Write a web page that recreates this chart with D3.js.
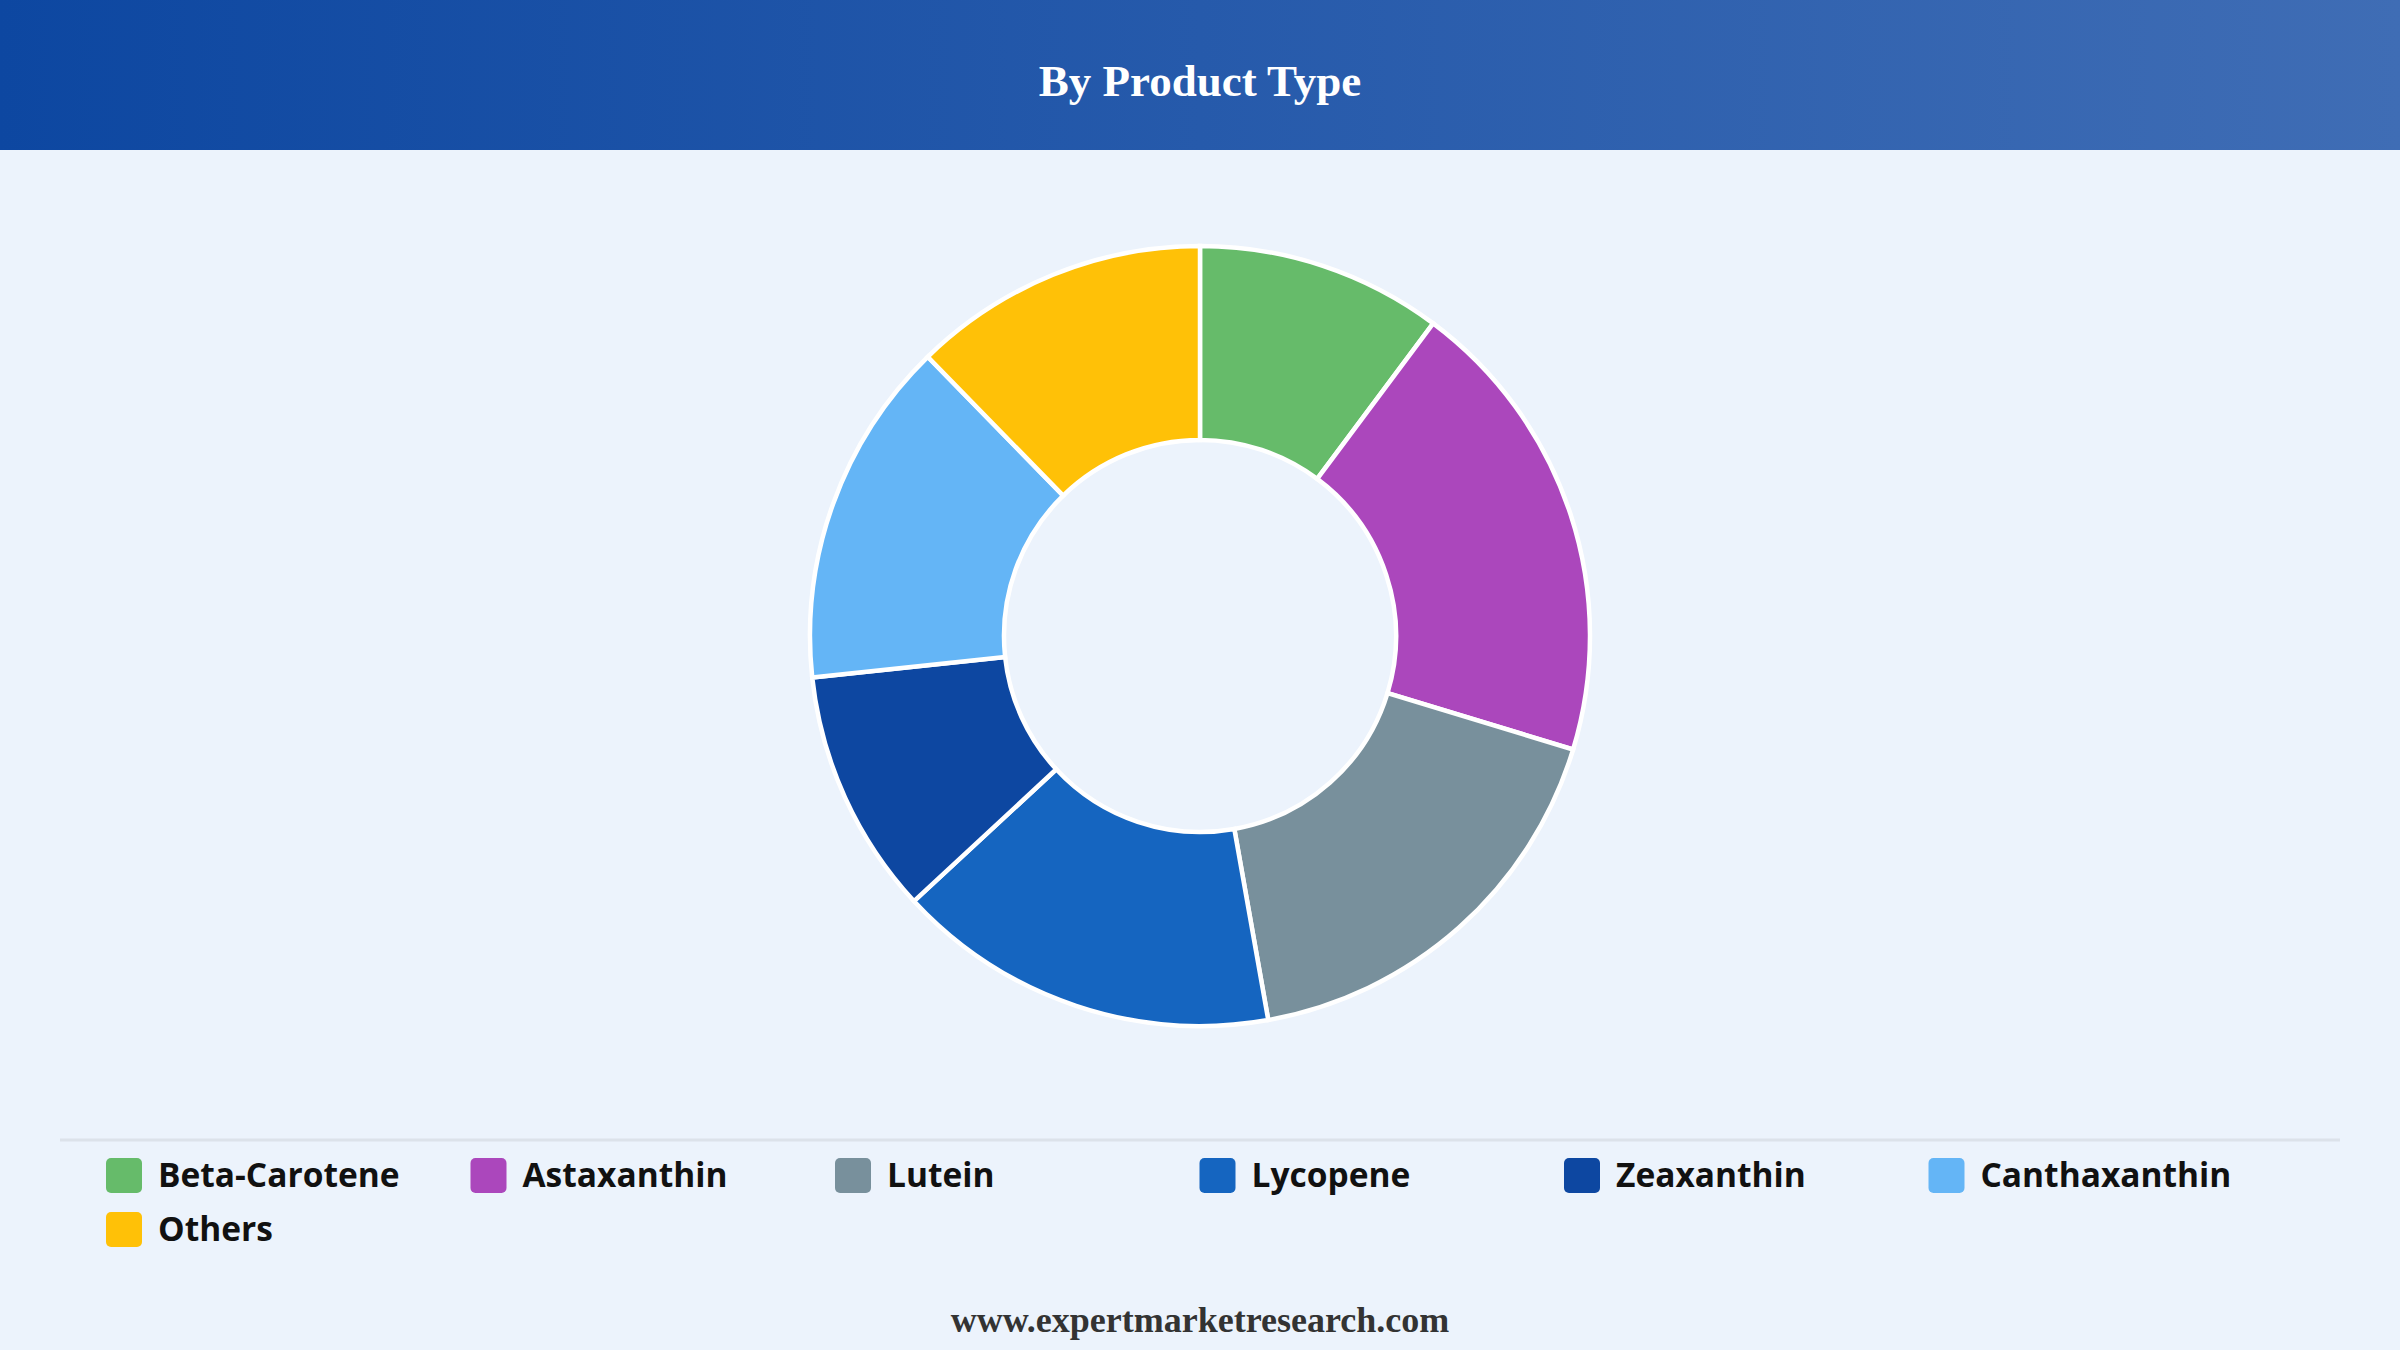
<!DOCTYPE html>
<html>
<head>
<meta charset="utf-8">
<script src="https://cdn.jsdelivr.net/npm/d3@7"></script>
<style>
  html, body { margin: 0; padding: 0; background: #ecf3fc; }
  svg { display: block; }
</style>
</head>
<body>
<div id="container"></div>
<script>
// chart values
const categories = ["Beta-Carotene", "Astaxanthin", "Lutein", "Lycopene", "Zeaxanthin", "Canthaxanthin", "Others"]
const shares     = [10.2, 19.5, 17.5, 15.9, 10.2, 14.4, 12.3]
const colours    = ["#66bb6a", "#ab47bc", "#78909c", "#1565c0", "#0d47a1", "#64b5f6", "#ffc107"]

const width = 2400
const height = 1350
const headerHeight = 150

const svg = d3.select("#container").append("svg")
  .attr("width", width)
  .attr("height", height)

// header band with its left-to-right gradient
const grad = svg.append("defs").append("linearGradient")
  .attr("id", "headerGrad")
  .attr("x1", "0%").attr("x2", "100%").attr("y1", "0%").attr("y2", "0%")
grad.append("stop").attr("offset", "0%").attr("stop-color", "#0d47a1")
grad.append("stop").attr("offset", "100%").attr("stop-color", "#3f6db5")

svg.append("rect")
  .attr("width", width)
  .attr("height", height)
  .attr("fill", "#ecf3fc")

svg.append("rect")
  .attr("width", width)
  .attr("height", headerHeight)
  .attr("fill", "url(#headerGrad)")

svg.append("text")
  .attr("x", width / 2)
  .attr("y", 96)
  .attr("text-anchor", "middle")
  .style("font-family", "'Liberation Serif', 'Times New Roman', serif")
  .style("font-weight", "bold")
  .style("font-size", "45px")
  .style("fill", "#ffffff")
  .text("By Product Type")

// donut
const cx = 1200, cy = 636
const outerR = 390, innerR = 196

const pie = d3.pie().sort(null).value(d => d.value)
const arc = d3.arc().innerRadius(innerR).outerRadius(outerR)

const slices = categories.map((c, i) => ({ name: c, value: shares[i], colour: colours[i] }))

svg.append("g")
    .attr("transform", `translate(${cx},${cy})`)
  .selectAll("path")
  .data(pie(slices))
  .enter()
  .append("path")
    .attr("d", arc)
    .style("fill", d => d.data.colour)
    .style("stroke", "#ffffff")
    .style("stroke-width", 4.5)

// separator above legend
svg.append("line")
  .attr("x1", 60).attr("x2", 2340)
  .attr("y1", 1140).attr("y2", 1140)
  .style("stroke", "#dce2ea")
  .style("stroke-width", 3)

// legend, six columns per row
const perRow = 6
const colX = d3.scaleLinear().domain([0, 1]).range([106, 106 + 364.5])
const rowY = d3.scaleLinear().domain([0, 1]).range([1158, 1212])

const item = svg.append("g")
  .selectAll("g")
  .data(slices)
  .enter()
  .append("g")
    .attr("transform", (d, i) => `translate(${colX(i % perRow)},${rowY(Math.floor(i / perRow))})`)

item.append("rect")
  .attr("width", 36)
  .attr("height", 35)
  .attr("rx", 5)
  .style("fill", d => d.colour)

item.append("text")
  .attr("x", 52)
  .attr("y", 29)
  .style("font-family", "'Open Sans', 'Noto Sans', sans-serif")
  .style("font-weight", "bold")
  .style("font-size", "33.5px")
  .style("fill", "#111111")
  .text(d => d.name)

// footer
svg.append("text")
  .attr("x", width / 2)
  .attr("y", 1332)
  .attr("text-anchor", "middle")
  .style("font-family", "'Liberation Serif', 'Times New Roman', serif")
  .style("font-weight", "bold")
  .style("font-size", "36px")
  .style("fill", "#333333")
  .text("www.expertmarketresearch.com")
</script>
</body>
</html>
